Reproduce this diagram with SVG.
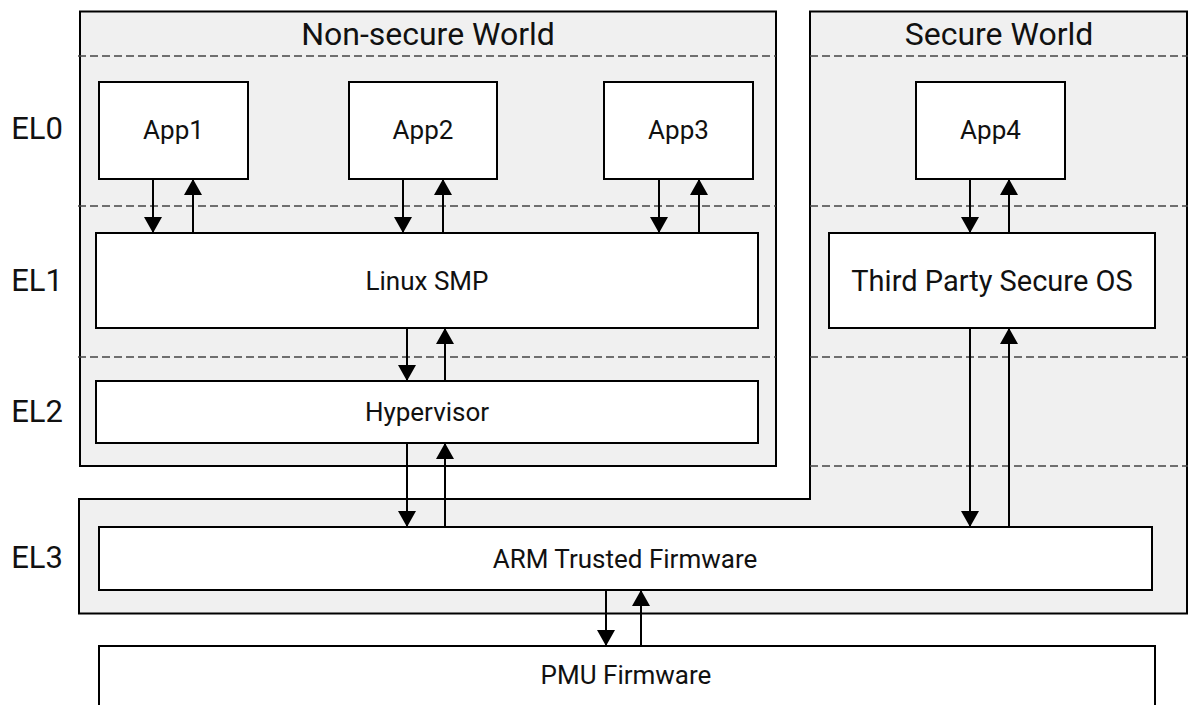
<svg xmlns="http://www.w3.org/2000/svg" width="1188" height="705" viewBox="0 0 1188 705">
<defs>
<style>
.world{fill:#f0f0f0;stroke:#000;stroke-width:2}
.box{fill:#fff;stroke:#000;stroke-width:2}
.dash{stroke:#444;stroke-width:1.6;stroke-dasharray:8 4;fill:none}
.t{font-family:Roboto,"Liberation Sans",sans-serif;fill:#111;text-anchor:middle}
.title{font-size:32px}
.el{font-size:31px}
.lbl{font-size:26px}
.big{font-size:29px}
.arr{stroke:#000;stroke-width:2;fill:none;marker-end:url(#ah)}
</style>
<marker id="ah" viewBox="0 0 16 18" refX="16" refY="9" markerWidth="16" markerHeight="18" markerUnits="userSpaceOnUse" orient="auto">
<path d="M0,0 L16,9 L0,18 Z" fill="#000"/>
</marker>
</defs>
<rect width="1188" height="705" fill="#fff"/>
<g id="nonsecure-world">
<rect class="world" x="80" y="11.5" width="696" height="454.5"/>
<text class="t title" x="428" y="45">Non-secure World</text>
</g>
<g id="secure-world">
<path class="world" d="M810,11.5 H1187 V613.5 H79 V499 H810 Z"/>
<text class="t title" x="999" y="45">Secure World</text>
</g>
<g id="levels">
<path class="dash" d="M78,56 H776 M810,56 H1188 M78,206 H776 M810,206 H1188 M78,357 H776 M810,357 H1188 M810,466 H1188"/>
<text class="t el" x="37" y="139">EL0</text>
<text class="t el" x="37" y="291">EL1</text>
<text class="t el" x="37" y="422">EL2</text>
<text class="t el" x="37" y="568">EL3</text>
</g>
<g id="app1"><rect class="box" x="99" y="82" width="149" height="97"/><text class="t lbl" x="173.5" y="139">App1</text></g>
<g id="app2"><rect class="box" x="349" y="82" width="148" height="97"/><text class="t lbl" x="423" y="139">App2</text></g>
<g id="app3"><rect class="box" x="604" y="82" width="149" height="97"/><text class="t lbl" x="678.5" y="139">App3</text></g>
<g id="app4"><rect class="box" x="916" y="82" width="149" height="97"/><text class="t lbl" x="990.5" y="139">App4</text></g>
<g id="linux"><rect class="box" x="96" y="233" width="662" height="95"/><text class="t lbl" x="427" y="289.5">Linux SMP</text></g>
<g id="secure-os"><rect class="box" x="829" y="233" width="326" height="95"/><text class="t big" x="992" y="291">Third Party Secure OS</text></g>
<g id="hypervisor"><rect class="box" x="96" y="381" width="662" height="62"/><text class="t lbl" x="427" y="421">Hypervisor</text></g>
<g id="atf"><rect class="box" x="99" y="527" width="1053" height="63"/><text class="t lbl" x="625" y="567.5">ARM Trusted Firmware</text></g>
<g id="pmu"><rect class="box" x="99" y="646" width="1056" height="70"/><text class="t lbl" x="626" y="683.5">PMU Firmware</text></g>
<g id="connectors">
<line class="arr" x1="153" y1="179" x2="153" y2="233"/>
<line class="arr" x1="193" y1="233" x2="193" y2="179"/>
<line class="arr" x1="403" y1="179" x2="403" y2="233"/>
<line class="arr" x1="443" y1="233" x2="443" y2="179"/>
<line class="arr" x1="659" y1="179" x2="659" y2="233"/>
<line class="arr" x1="699" y1="233" x2="699" y2="179"/>
<line class="arr" x1="970" y1="179" x2="970" y2="233"/>
<line class="arr" x1="1009" y1="233" x2="1009" y2="179"/>
<line class="arr" x1="407" y1="328" x2="407" y2="381"/>
<line class="arr" x1="445" y1="381" x2="445" y2="328"/>
<line class="arr" x1="407" y1="443" x2="407" y2="527"/>
<line class="arr" x1="445" y1="527" x2="445" y2="443"/>
<line class="arr" x1="970" y1="328" x2="970" y2="527"/>
<line class="arr" x1="1009" y1="527" x2="1009" y2="328"/>
<line class="arr" x1="606" y1="590" x2="606" y2="646"/>
<line class="arr" x1="641" y1="646" x2="641" y2="590"/>
</g>
</svg>
